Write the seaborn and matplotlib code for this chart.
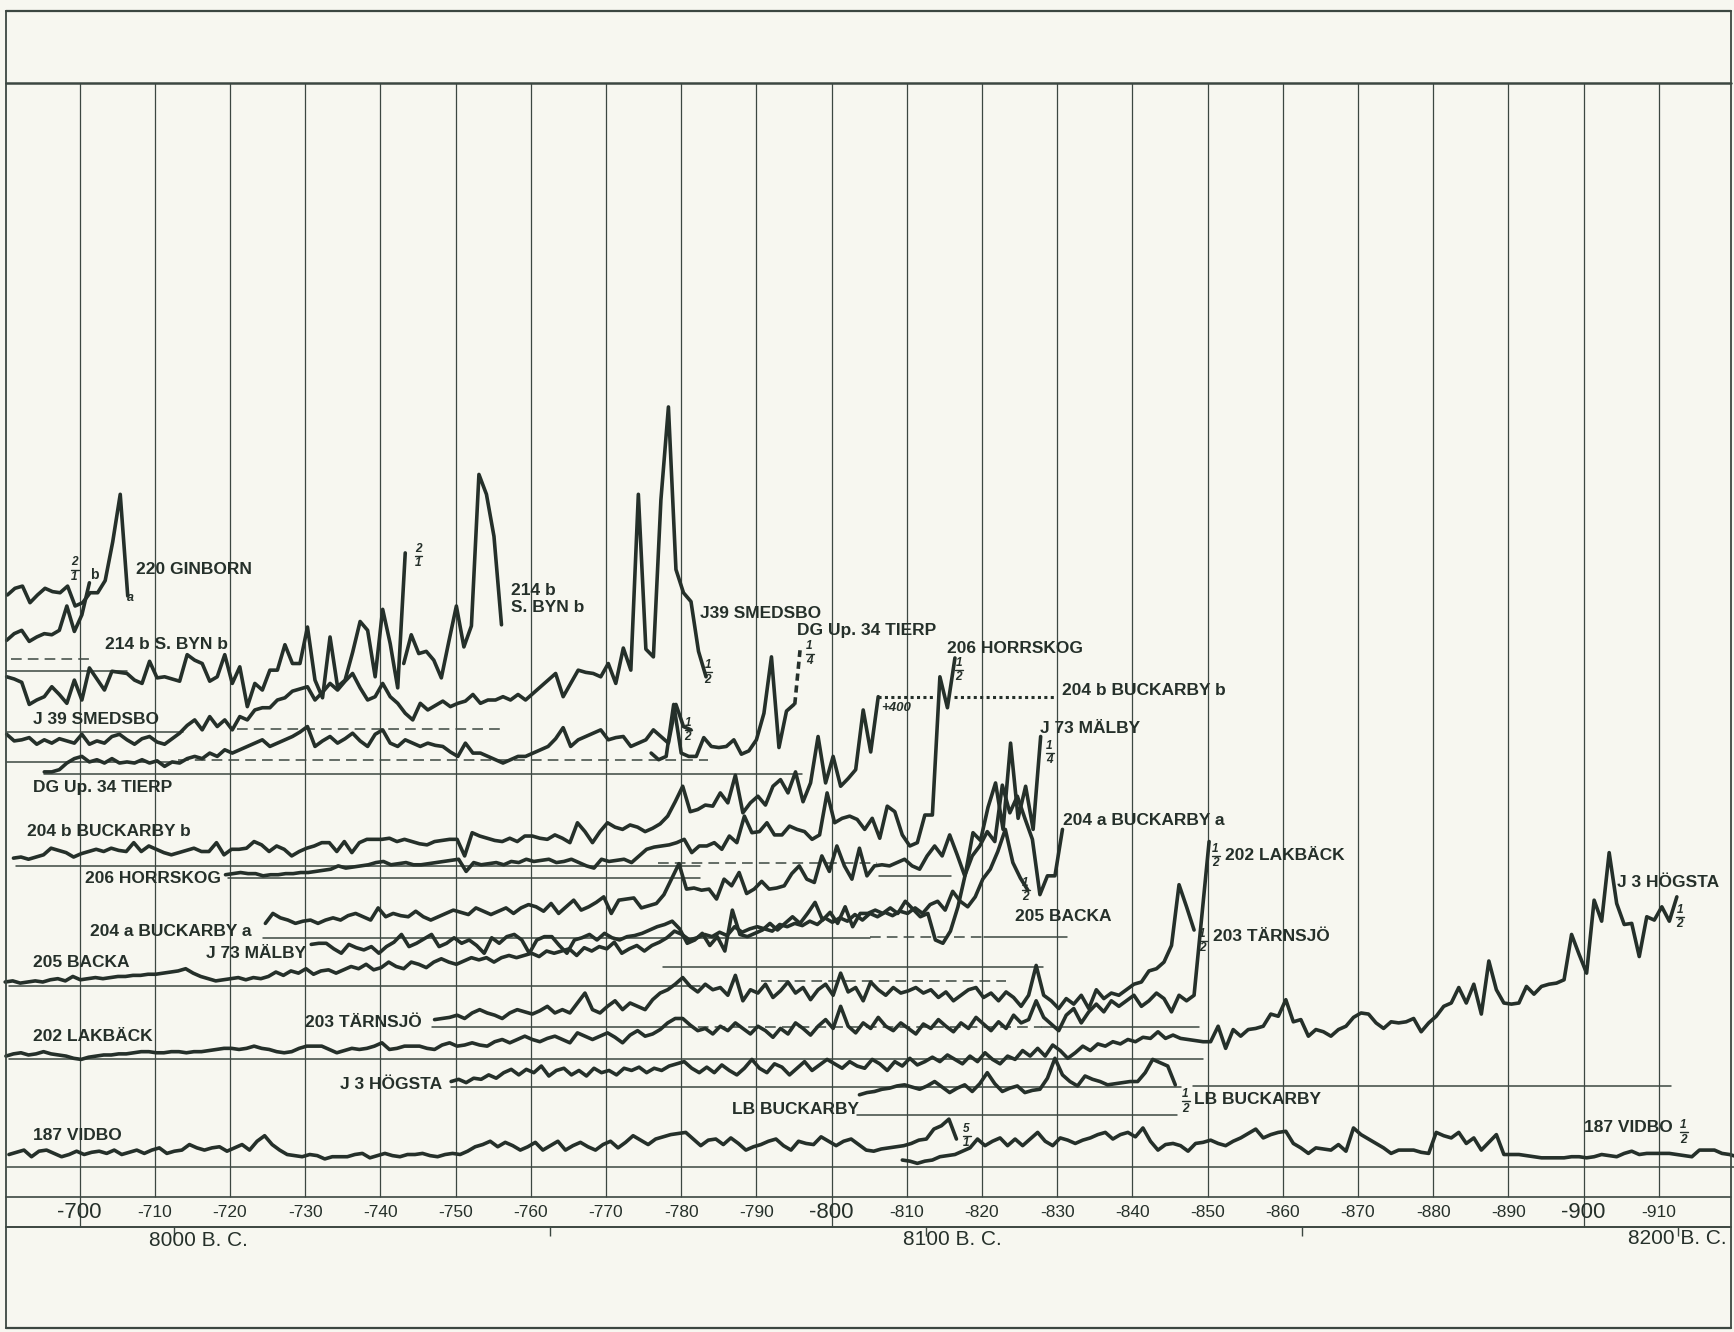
import numpy as np
import matplotlib
matplotlib.use("Agg")
import matplotlib.pyplot as plt
from matplotlib.lines import Line2D
import seaborn as sns

sns.set_theme(style="white")
plt.rcParams['font.family'] = ['Liberation Sans', 'DejaVu Sans']

# ---------------- data (varve thickness above each series' zero line) -------------
grid_years = list(range(700, 911, 10))
grid_labels = [f"-{y}" for y in grid_years]
bc_tick_years = [712.5, 762.5, 812.5, 862.5, 912.5]
bc_labels = ["8000 B. C.", "8100 B. C.", "8200 B. C."]

ginborn_a_start = 690.4
ginborn_a = [69, 75, 77, 62, 69, 75, 72, 71, 77, 59, 62, 71, 71, 82, 117, 160, 68]
ginborn_b_start = 690.3
ginborn_b = [17, 23, 26, 16, 20, 23, 22, 26, 48, 25, 40, 69]

sbyn_start = 690.3
sbyn = [48, 46, 43, 23, 27, 30, 39, 32, 24, 45, 27, 56, 46, 36, 53, 52, 51, 45, 42, 62,
        47, 48, 46, 44, 68, 63, 60, 44, 48, 68, 42, 57, 21, 42, 36, 54, 54, 77, 60, 60,
        93, 45, 29, 84, 39, 45, 70, 98, 90, 48, 109, 78, 38, 160]
sbyn2_start = 743.1
sbyn2 = [60, 86, 69, 71, 63, 47, 80, 112, 75, 94, 231, 213, 175, 95]

smedsbo_start = 690.3
smedsbo = [24, 18, 19, 21, 15, 19, 16, 20, 18, 16, 24, 15, 18, 16, 22, 24, 19, 15, 20, 22,
           17, 15, 20, 25, 32, 37, 28, 40, 31, 37, 28, 40, 37, 46, 48, 48, 55, 57, 63, 65,
           67, 55, 62, 70, 64, 72, 79, 66, 55, 58, 70, 58, 52, 43, 37, 52, 46, 50, 54, 49,
           52, 54, 60, 52, 55, 55, 58, 55, 60, 55, 61, 67, 73, 79, 58, 70, 82, 80, 79, 76,
           88, 70, 102, 82, 241, 101, 94, 236, 320, 173, 152, 144, 99, 76]

tierp_start = 695.3
tierp = [2, 2, 4, 10, 14, 16, 11, 13, 10, 14, 10, 11, 10, 13, 10, 12, 7, 11, 10, 14,
         16, 14, 19, 16, 22, 19, 22, 25, 28, 31, 25, 28, 31, 34, 38, 43, 25, 30, 34, 28,
         32, 37, 30, 25, 36, 40, 28, 25, 31, 28, 25, 28, 26, 25, 20, 16, 28, 19, 19, 16,
         13, 10, 13, 16, 16, 19, 22, 25, 32, 42, 25, 31, 34, 37, 40, 31, 33, 34, 25, 28,
         31, 40, 34, 28, 63, 43, 40]
tierp_half_start = 776.0
tierp_half = [19, 13, 16, 63, 19, 16, 16, 33, 25, 24, 25, 31, 18, 21, 31, 55, 106, 24, 57, 63]
tierp_jump_years = [795.1, 795.8]
tierp_jump = [63, 112]

buck_b_start = 691.2
buck_b = [7, 8, 6, 8, 10, 16, 14, 12, 8, 11, 13, 15, 13, 16, 14, 13, 21, 13, 18,
          15, 12, 10, 12, 14, 16, 13, 13, 21, 10, 15, 15, 16, 22, 19, 13, 18, 15, 9, 13,
          16, 18, 21, 21, 13, 22, 12, 21, 24, 24, 24, 25, 22, 24, 22, 20, 19, 22, 23, 24,
          24, 9, 30, 27, 25, 23, 22, 25, 22, 27, 27, 25, 24, 28, 25, 21, 39, 31, 21, 31,
          39, 35, 33, 37, 35, 31, 34, 38, 45, 58, 72, 49, 51, 55, 54, 66, 57, 82, 48, 57,
          63, 55, 72, 78, 66, 85, 58, 75, 117, 75, 99, 72, 79, 87, 141, 103, 153]
buck_b_plus400 = 153
buck_b_dotted_years = [(806.2, 813.7), (816.3, 829.6)]

horrskog_start = 719.4
horrskog = [3, 4, 5, 4, 4, 2, 3, 3, 4, 4, 5, 5, 6, 7, 8, 11, 9, 10, 11, 12,
            14, 15, 12, 13, 14, 12, 12, 13, 14, 15, 16, 17, 6, 14, 12, 13, 14, 12, 15, 14,
            17, 15, 16, 17, 14, 15, 17, 14, 11, 9, 17, 15, 16, 17, 14, 20, 26, 28, 29, 30,
            32, 35, 23, 29, 29, 32, 26, 38, 32, 56, 41, 42, 50, 39, 39, 47, 44, 42, 35, 39,
            77, 50, 54, 56, 53, 44, 54, 36, 65, 60, 39, 29, 32, 57, 57, 182, 154, 199]

buck_a_start = 724.7
buck_a = [13, 22, 18, 16, 13, 15, 16, 13, 16, 18, 16, 20, 22, 19, 16, 27, 19, 22, 20, 19,
          24, 19, 16, 19, 22, 25, 23, 21, 27, 24, 21, 24, 27, 22, 27, 30, 28, 24, 31, 22,
          28, 34, 25, 28, 32, 37, 22, 34, 35, 36, 27, 29, 31, 39, 53, 67, 44, 45, 43, 44,
          35, 53, 47, 59, 40, 44, 51, 44, 45, 47, 58, 65, 53, 50, 74, 60, 83, 65, 53, 81,
          56, 65, 66, 65, 68, 71, 65, 62, 74, 83, 74, 93, 75, 56, 74, 83, 96, 87, 138, 113,
          128, 108, 89, 39, 56, 56, 98]

malby_start = 730.8
malby = [20, 21, 21, 16, 12, 20, 17, 15, 18, 12, 18, 22, 29, 18, 21, 25, 29, 18, 21, 26,
         21, 24, 19, 12, 26, 21, 27, 29, 24, 12, 24, 27, 27, 19, 12, 24, 26, 29, 24, 30,
         26, 24, 27, 28, 30, 33, 36, 38, 41, 34, 21, 24, 30, 19, 27, 14, 51, 29, 27, 30,
         33, 39, 33, 39, 45, 39, 48, 58, 42, 49, 39, 54, 36, 48, 48, 51, 48, 53, 48, 59,
         52, 45, 48, 24, 21, 32, 54, 84, 121, 114, 144, 166, 124, 202, 134, 163, 124, 208]

backa_start = 690.1
backa = [4, 5, 3, 4, 5, 4, 6, 7, 5, 9, 6, 7, 8, 7, 8, 9, 9, 10, 10, 11,
         11, 12, 13, 14, 16, 12, 9, 7, 5, 6, 7, 8, 6, 8, 7, 9, 13, 10, 14, 12,
         16, 11, 14, 15, 12, 15, 18, 16, 20, 15, 17, 22, 18, 16, 22, 20, 17, 22, 25, 22,
         20, 23, 26, 24, 26, 22, 26, 28, 26, 28, 30, 27, 32, 30, 32, 34, 28, 35, 32, 36,
         34, 40, 30, 34, 37, 32, 37, 40, 44, 50, 47, 42, 44, 47, 45, 49, 46, 54, 49, 52,
         54, 52, 50, 56, 54, 57, 55, 59, 56, 62, 58, 62, 59, 65, 60, 66, 63, 67, 64, 68,
         66, 71, 66, 74, 77, 69, 86, 77, 72, 81, 97, 106, 122, 142, 112, 98, 87]

tarnsjo_start = 747.2
tarnsjo = [7, 8, 9, 11, 8, 13, 16, 13, 11, 8, 13, 16, 14, 12, 15, 19, 13, 16, 13, 22,
           31, 16, 13, 19, 24, 16, 22, 19, 16, 25, 31, 34, 39, 45,
           37, 32, 39, 34, 36, 29, 47, 24, 34, 31, 39, 27, 33, 41, 31, 36, 25, 34, 39, 29,
           49, 32, 36, 24, 41, 34, 29, 36, 31, 33, 36, 31, 34, 27, 32, 24, 29, 34, 36, 27,
           31, 24, 32, 27, 19, 29, 56, 29, 24, 17, 26, 21, 29, 17, 34, 26, 31, 29, 34, 39,
           41, 51, 53, 59, 74, 129, 109, 88]

lakback_start = 690.2
lakback = [4, 6, 7, 5, 6, 8, 6, 5, 4, 2, 1, 3, 4, 5, 5, 6, 6, 7, 8, 8,
           7, 7, 8, 8, 7, 8, 8, 9, 10, 11, 11, 10, 11, 13, 11, 10, 8, 7, 8, 11,
           13, 13, 13, 10, 7, 9, 11, 10, 11, 13, 16, 10, 11, 13, 13, 13, 11, 10, 14, 16,
           13, 14, 16, 14, 13, 17, 19, 16, 19, 22, 19, 17, 20, 22, 19, 16, 25, 22, 19, 22,
           25, 21, 16, 23, 27, 22, 24, 28, 34, 38, 38, 32, 27, 29, 24, 31, 27, 34, 29, 24,
           31, 27, 21, 29, 24, 34, 29, 23, 31, 37, 29, 49, 31, 25, 34, 29, 39, 31, 27, 34,
           29, 24, 33, 29, 37, 31, 26, 34, 29, 39, 33, 27, 35, 29, 41, 34, 37, 54, 39, 33,
           27, 41, 47, 34, 44, 51, 44, 54, 49, 54, 59, 49, 54, 61, 56, 44, 59, 54, 59, 129,
           198]

hogsta_start = 749.4
hogsta = [4, 6, 3, 7, 6, 10, 7, 12, 15, 10, 15, 12, 18, 9, 14, 16, 10, 14, 9, 16,
          12, 14, 10, 16, 14, 17, 12, 16, 14, 18, 20, 22, 16, 12, 17, 12, 19, 14, 10, 16,
          24, 16, 12, 20, 17, 10, 16, 22, 14, 19, 24, 20, 16, 22, 18, 16, 24, 20, 14, 22,
          18, 25, 19, 22, 26, 22, 28, 24, 20, 27, 22, 30, 24, 20, 27, 24, 32, 27, 34, 27,
          37, 32, 25, 30, 36, 32, 38, 36, 40, 38, 42, 40, 44, 43, 49, 43, 46, 43, 42, 41,
          40, 40, 54, 34, 51, 45, 51, 52, 54, 65, 63, 78, 58, 60, 45, 51, 49, 45, 51, 54,
          62, 66, 65, 57, 52, 58, 57, 58, 61, 49, 57, 63, 72, 75, 89, 75, 92, 65, 113, 87,
          75, 74, 75, 90, 83, 90, 92, 93, 96, 137, 119, 102, 168, 149, 211, 165, 146, 147, 117, 153,
          150, 162, 149, 171]

lb_start = 803.7
lb_buckarby = [18, 20, 21, 23, 24, 26, 27, 25, 23, 26, 30, 25, 20, 24, 27, 21, 28, 38, 28, 21,
               24, 26, 20, 22, 23, 33, 51, 36, 30, 26, 35, 32, 30, 27, 28, 29, 30, 30, 38, 50,
               47, 44, 27]

vidbo_start = 690.6
vidbo = [11, 13, 15, 9, 14, 15, 12, 9, 11, 14, 11, 13, 14, 12, 15, 11, 13, 15, 12, 15,
         17, 12, 14, 15, 20, 17, 15, 17, 18, 14, 17, 20, 15, 23, 28, 20, 15, 11, 10, 9,
         11, 10, 7, 9, 9, 9, 11, 12, 8, 10, 12, 10, 9, 11, 11, 12, 10, 9, 11, 12,
         11, 14, 18, 20, 23, 18, 22, 19, 15, 18, 22, 15, 19, 23, 15, 19, 22, 18, 15, 20,
         23, 17, 22, 28, 24, 20, 25, 27, 29, 30, 31, 25, 19, 24, 25, 20, 26, 21, 15, 18,
         20, 23, 25, 19, 15, 23, 21, 20, 27, 23, 19, 23, 25, 20, 15, 14, 16, 17, 18, 19,
         21, 24, 25, 34, 37, 43, 25]
vidbo2_start = 809.4
vidbo2 = [6, 5, 3, 5, 6, 9, 10, 11, 14, 17, 25, 19, 23, 26, 19, 25, 19, 25, 31, 23,
          19, 26, 24, 21, 24, 26, 29, 31, 25, 29, 31, 27, 35, 23, 15, 20, 21, 19, 14, 21,
          22, 24, 21, 19, 23, 26, 30, 34, 26, 29, 31, 32, 21, 17, 12, 17, 16, 15, 20, 14,
          35, 29, 25, 21, 17, 12, 15, 15, 15, 13, 12, 31, 28, 26, 31, 21, 26, 15, 22, 29,
          11, 11, 11, 10, 9, 8, 8, 8, 8, 9, 9, 8, 9, 11, 10, 9, 12, 14, 11, 12,
          12, 12, 12, 11, 10, 9, 15, 15, 15, 12, 11, 9]

# ---------------- layout (positions in reference-pixel units, y downward) ----------
REF_W, REF_H = 1568.0, 1204.5
PX_PER_YEAR, X700 = 6.8, 72.0
X_LEFT = 700 - X700 / PX_PER_YEAR
X_RIGHT = 700 + (REF_W - X700) / PX_PER_YEAR

zero_line = {
    'ginborn_a': 607, 'ginborn_b': 596, 'sbyn': 660, 'smedsbo': 688, 'tierp': 700,
    'buck_b': 783, 'horrskog': 794, 'buck_a': 848, 'malby': 874, 'backa': 892,
    'tarnsjo': 929, 'lakback': 959, 'hogsta': 982, 'lb': 1008, 'vidbo': 1055,
}

# (level, year0, year1, style)
base_segments = [
    (607, 690.4, 706.3, '-'), (596, 690.9, 701.3, '--'),
    (662, 690.3, 713.8, '-'), (659, 720.9, 756.2, '--'),
    (689, 690.3, 713.1, '-'), (687, 713.1, 783.5, '--'),
    (700, 695.3, 796.0, '-'),
    (783, 691.5, 782.5, '-'), (780, 776.9, 806.0, '--'),
    (794, 719.7, 782.5, '-'), (792, 806.3, 815.9, '-'),
    (848, 724.4, 805.1, '-'), (847, 805.1, 820.3, '--'), (847, 820.3, 831.3, '-'),
    (874, 777.6, 828.1, '-'),
    (892, 690.6, 782.5, '-'), (887, 790.6, 823.2, '--'),
    (929, 746.9, 780.0, '-'), (929, 780.0, 828.0, '--'), (929, 828.0, 848.8, '-'),
    (958, 690.6, 849.4, '-'),
    (983, 749.4, 846.5, '-'), (982, 848.0, 911.6, '-'),
    (1008, 803.4, 845.9, '-'),
    (1055, 690.4, 920.0, '-'),
]

PAPER = '#f7f7f0'
INK = '#25302a'
GRIDC = '#3c4741'
LW = 2.6

fig = plt.figure(figsize=(17.34, 13.32), dpi=100)
fig.patch.set_facecolor(PAPER)
ax = fig.add_axes([0, 0, 1, 1])
ax.set_facecolor(PAPER)
ax.set_xlim(X_LEFT, X_RIGHT)
ax.set_ylim(REF_H, 0)
ax.axis('off')


def fx(xs):
    return xs / REF_W


def fy(ys):
    return 1 - ys / REF_H


def fline(x0, y0, x1, y1, lw=1.0, color=GRIDC):
    fig.add_artist(Line2D([fx(x0), fx(x1)], [fy(y0), fy(y1)], lw=lw, color=color,
                          transform=fig.transFigure))


# frame
fline(5, 10, 1565, 10, lw=1.6)
fline(5, 75, 1565, 75, lw=1.8)
fline(5, 10, 5, 1201, lw=1.3)
fline(1565, 10, 1565, 1201, lw=1.3)
fline(5, 1201, 1565, 1201, lw=1.6)
fline(5, 1082, 1565, 1082, lw=1.2)
fline(5, 1110, 1565, 1110, lw=1.4)

# grid lines
for g in grid_years:
    bottom = 1110 if g in (700, 800, 900) else 1082
    ax.vlines(g, 75, bottom, color=GRIDC, lw=0.9, zorder=1)

# zero lines
for lev, t0, t1, st in base_segments:
    if st == '--':
        ax.plot([t0, t1], [lev, lev], color=GRIDC, lw=1.1, dashes=(7, 4), zorder=2)
    else:
        ax.plot([t0, t1], [lev, lev], color=GRIDC, lw=1.1, zorder=2)


def draw(start, vals, base, **kw):
    yrs = start + np.arange(len(vals))
    sns.lineplot(x=yrs, y=base - np.asarray(vals, dtype=float), ax=ax, color=INK,
                 linewidth=LW, estimator=None, sort=False, legend=False, zorder=3, **kw)


draw(ginborn_a_start, ginborn_a, zero_line['ginborn_a'])
draw(ginborn_b_start, ginborn_b, zero_line['ginborn_b'])
draw(sbyn_start, sbyn, zero_line['sbyn'])
draw(sbyn2_start, sbyn2, zero_line['sbyn'])
draw(smedsbo_start, smedsbo, zero_line['smedsbo'])
draw(tierp_start, tierp, zero_line['tierp'])
draw(tierp_half_start, tierp_half, zero_line['tierp'])
ax.plot(tierp_jump_years, zero_line['tierp'] - np.array(tierp_jump), color=INK,
        lw=LW, dashes=(2.0, 1.3), zorder=3)
draw(buck_b_start, buck_b, zero_line['buck_b'])
for t0, t1 in buck_b_dotted_years:
    ax.plot([t0, t1], [zero_line['buck_b'] - buck_b_plus400] * 2, color=INK, lw=2.2,
            linestyle=(0, (1, 1.1)), zorder=3)
draw(horrskog_start, horrskog, zero_line['horrskog'])
draw(buck_a_start, buck_a, zero_line['buck_a'])
draw(malby_start, malby, zero_line['malby'])
draw(backa_start, backa, zero_line['backa'])
draw(tarnsjo_start, tarnsjo, zero_line['tarnsjo'])
draw(lakback_start, lakback, zero_line['lakback'])
draw(hogsta_start, hogsta, zero_line['hogsta'])
draw(lb_start, lb_buckarby, zero_line['lb'])
draw(vidbo_start, vidbo, zero_line['vidbo'])
draw(vidbo2_start, vidbo2, zero_line['vidbo'])


def label(xs, ys, s, size=12.5, weight='bold', style='normal', ha='left', va='center'):
    fig.text(fx(xs), fy(ys), s, fontsize=size, fontweight=weight, fontstyle=style,
             ha=ha, va=va, color=INK)


def frac(xs, ys, num, den, size=8.5):
    label(xs, ys - 6.5, num, size=size, style='italic', ha='center')
    label(xs, ys + 6.5, den, size=size, style='italic', ha='center')
    fline(xs - 3, ys, xs + 4, ys, lw=1.0, color=INK)


series_labels = [
    (123, 515, "220 GINBORN"), (462, 534, "214 b"), (462, 549, "S. BYN b"),
    (95, 583, "214 b S. BYN b"), (30, 651, "J 39 SMEDSBO"), (633, 555, "J39 SMEDSBO"),
    (30, 712, "DG Up. 34 TIERP"), (721, 570, "DG Up. 34 TIERP"),
    (856, 586, "206 HORRSKOG"), (960, 624, "204 b BUCKARBY b"),
    (940, 659, "J 73 MÄLBY"), (24, 752, "204 b BUCKARBY b"),
    (961, 742, "204 a BUCKARBY a"), (77, 794, "206 HORRSKOG"),
    (1108, 774, "202 LAKBÄCK"), (918, 829, "205 BACKA"),
    (81, 842, "204 a BUCKARBY a"), (1097, 847, "203 TÄRNSJÖ"),
    (186, 862, "J 73 MÄLBY"), (30, 870, "205 BACKA"), (1462, 798, "J 3 HÖGSTA"),
    (276, 925, "203 TÄRNSJÖ"), (30, 937, "202 LAKBÄCK"), (307, 981, "J 3 HÖGSTA"),
    (662, 1003, "LB BUCKARBY"), (1080, 994, "LB BUCKARBY"),
    (30, 1027, "187 VIDBO"), (1432, 1020, "187 VIDBO"),
]
for xs, ys, s in series_labels:
    label(xs, ys, s)

fractions = [
    (67, 515, '2', '1'), (378, 503, '2', '1'), (640, 608, '1', '2'), (622, 660, '1', '2'),
    (732, 591, '1', '4'), (867, 606, '1', '2'), (949, 681, '1', '4'), (927, 805, '1', '2'),
    (1099, 774, '1', '2'), (1087, 851, '1', '2'), (1519, 829, '1', '2'),
    (1072, 996, '1', '2'), (1522, 1024, '1', '2'), (874, 1027, '5', '1'),
]
for xs, ys, n, d in fractions:
    frac(xs, ys, n, d)

label(81, 520, 'b', size=10)
label(115, 541, 'a', size=9, style='italic')
label(797, 640, '+400', size=9.5, style='italic')

# year scale
for g, s in zip(grid_years, grid_labels):
    big = g in (700, 800, 900)
    ax.text(g, 1096, s, fontsize=16 if big else 12.5, ha='center', va='center',
            color=INK, fontweight='normal')
for t in bc_tick_years:
    ax.vlines(t, 1110, 1118, color=GRIDC, lw=1.0)
for xs, ys, s in [(135, 1122, bc_labels[0]), (817, 1121, bc_labels[1]),
                  (1472, 1120, bc_labels[2])]:
    label(xs, ys, s, size=15, weight='normal')

fig.savefig("out.png", dpi=100, facecolor=PAPER)
